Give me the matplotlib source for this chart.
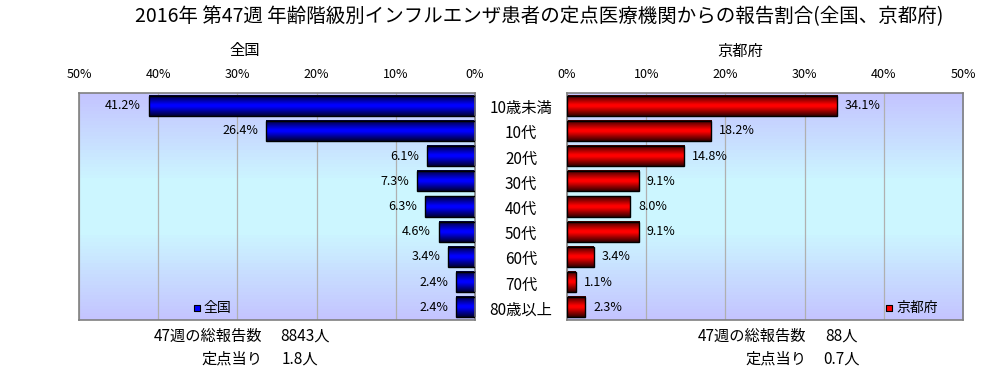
import numpy as np
import matplotlib
matplotlib.use('Agg')
import matplotlib.pyplot as plt
import matplotlib.transforms as mtransforms
from matplotlib.colors import LinearSegmentedColormap

plt.rcParams['font.family'] = ['Noto Sans CJK JP', 'DejaVu Sans']

# データ
categories = ['10歳未満', '10代', '20代', '30代', '40代', '50代', '60代', '70代', '80歳以上']
zenkoku = [41.2, 26.4, 6.1, 7.3, 6.3, 4.6, 3.4, 2.4, 2.4]
kyoto = [34.1, 18.2, 14.8, 9.1, 8.0, 9.1, 3.4, 1.1, 2.3]
tick_vals = [0, 10, 20, 30, 40, 50]

title = '2016年 第47週 年齢階級別インフルエンザ患者の定点医療機関からの報告割合(全国、京都府)'
zenkoku_total = '8843人'
zenkoku_per = '1.8人'
kyoto_total = '88人'
kyoto_per = '0.7人'

W, H = 1006, 373
fig = plt.figure(figsize=(W / 100, H / 100), dpi=100)
fig.patch.set_facecolor('white')

def px(x0, y0, x1, y1):
    return [x0 / W, 1 - y1 / H, (x1 - x0) / W, (y1 - y0) / H]

ax_l = fig.add_axes(px(79, 93, 475, 320))
ax_r = fig.add_axes(px(567, 93, 963, 320))

bg_cmap = LinearSegmentedColormap.from_list(
    'bg', [(0, '#c4c4ff'), (0.38, '#ccf6ff'), (0.62, '#ccf6ff'), (1, '#c4c4ff')])
blue_cmap = LinearSegmentedColormap.from_list(
    'bl', [(0, '#000033'), (0.45, '#0000ff'), (0.55, '#0000ff'), (1, '#000033')])
red_cmap = LinearSegmentedColormap.from_list(
    'rd', [(0, '#330000'), (0.45, '#ff0000'), (0.55, '#ff0000'), (1, '#330000')])

grad = np.linspace(0, 1, 64).reshape(-1, 1)
y = np.arange(len(categories))


def draw_panel(ax, vals, cmap, invert):
    ax.imshow(grad, extent=[0, 1, 0, 1], transform=ax.transAxes, cmap=bg_cmap,
              aspect='auto', zorder=0)
    bars = ax.barh(y, vals, height=0.8, facecolor='none', edgecolor='black',
                   linewidth=1.0, zorder=3)
    for b in bars:
        x0, y0 = b.get_x(), b.get_y()
        w, h = b.get_width(), b.get_height()
        ax.imshow(grad, extent=[x0, x0 + w, y0 + h, y0], cmap=cmap,
                  aspect='auto', zorder=2, interpolation='bilinear')
    for yi, v in zip(y, vals):
        if invert:
            ax.text(v + 1.0, yi, f'{v:.1f}%', ha='right', va='center', fontsize=9, zorder=4)
        else:
            ax.text(v + 1.0, yi, f'{v:.1f}%', ha='left', va='center', fontsize=9, zorder=4)
    ax.set_xlim(50, 0) if invert else ax.set_xlim(0, 50)
    ax.set_ylim(len(categories) - 0.5, -0.5)
    ax.set_aspect('auto')
    ax.xaxis.tick_top()
    ax.set_xticks(tick_vals)
    ax.set_xticklabels([f'{t}%' for t in tick_vals], fontsize=9)
    ax.tick_params(axis='x', length=0, pad=9)
    ax.set_yticks([])
    ax.grid(axis='x', color='#b0b0b0', linewidth=0.9, zorder=1)
    ax.set_axisbelow(True)
    for s in ax.spines.values():
        s.set_color('#808080')
        s.set_linewidth(1.2)


draw_panel(ax_l, zenkoku, blue_cmap, True)
draw_panel(ax_r, kyoto, red_cmap, False)

# 年齢区分ラベル (中央)
trans = mtransforms.blended_transform_factory(fig.transFigure, ax_l.transData)
for yi, c in zip(y, categories):
    ax_l.text(521 / W, yi + 0.12, c, transform=trans, ha='center', va='center',
              fontsize=11, clip_on=False)

# 凡例
ax_l.scatter([118 / 396], [0.052], marker='s', s=20, color='#0000ff', edgecolor='black',
             linewidth=0.8, transform=ax_l.transAxes, zorder=5, clip_on=False)
ax_l.text(125 / 396, 0.052, '全国', transform=ax_l.transAxes, ha='left', va='center',
          fontsize=10, zorder=5)
ax_r.scatter([(889 - 567) / 396], [0.052], marker='s', s=20, color='#ff0000',
             edgecolor='black', linewidth=0.8, transform=ax_r.transAxes, zorder=5)
ax_r.text((896 - 567) / 396, 0.052, '京都府', transform=ax_r.transAxes, ha='left',
          va='center', fontsize=10, zorder=5)

# タイトル
fig.text(539 / W, 1 - 17 / H, title, ha='center', va='center', fontsize=14)
fig.text(245 / W, 1 - 51 / H, '全国', ha='center', va='center', fontsize=11)
fig.text(740 / W, 1 - 51 / H, '京都府', ha='center', va='center', fontsize=11)

# 下部の注記
fig.text(262 / W, 1 - 336 / H, '47週の総報告数', ha='right', va='center', fontsize=11)
fig.text(280 / W, 1 - 336 / H, zenkoku_total, ha='left', va='center', fontsize=11)
fig.text(262 / W, 1 - 359 / H, '定点当り', ha='right', va='center', fontsize=11)
fig.text(282 / W, 1 - 359 / H, zenkoku_per, ha='left', va='center', fontsize=11)
fig.text(806 / W, 1 - 336 / H, '47週の総報告数', ha='right', va='center', fontsize=11)
fig.text(825 / W, 1 - 336 / H, kyoto_total, ha='left', va='center', fontsize=11)
fig.text(806 / W, 1 - 359 / H, '定点当り', ha='right', va='center', fontsize=11)
fig.text(823 / W, 1 - 359 / H, kyoto_per, ha='left', va='center', fontsize=11)

fig.savefig('out.png', dpi=100)
